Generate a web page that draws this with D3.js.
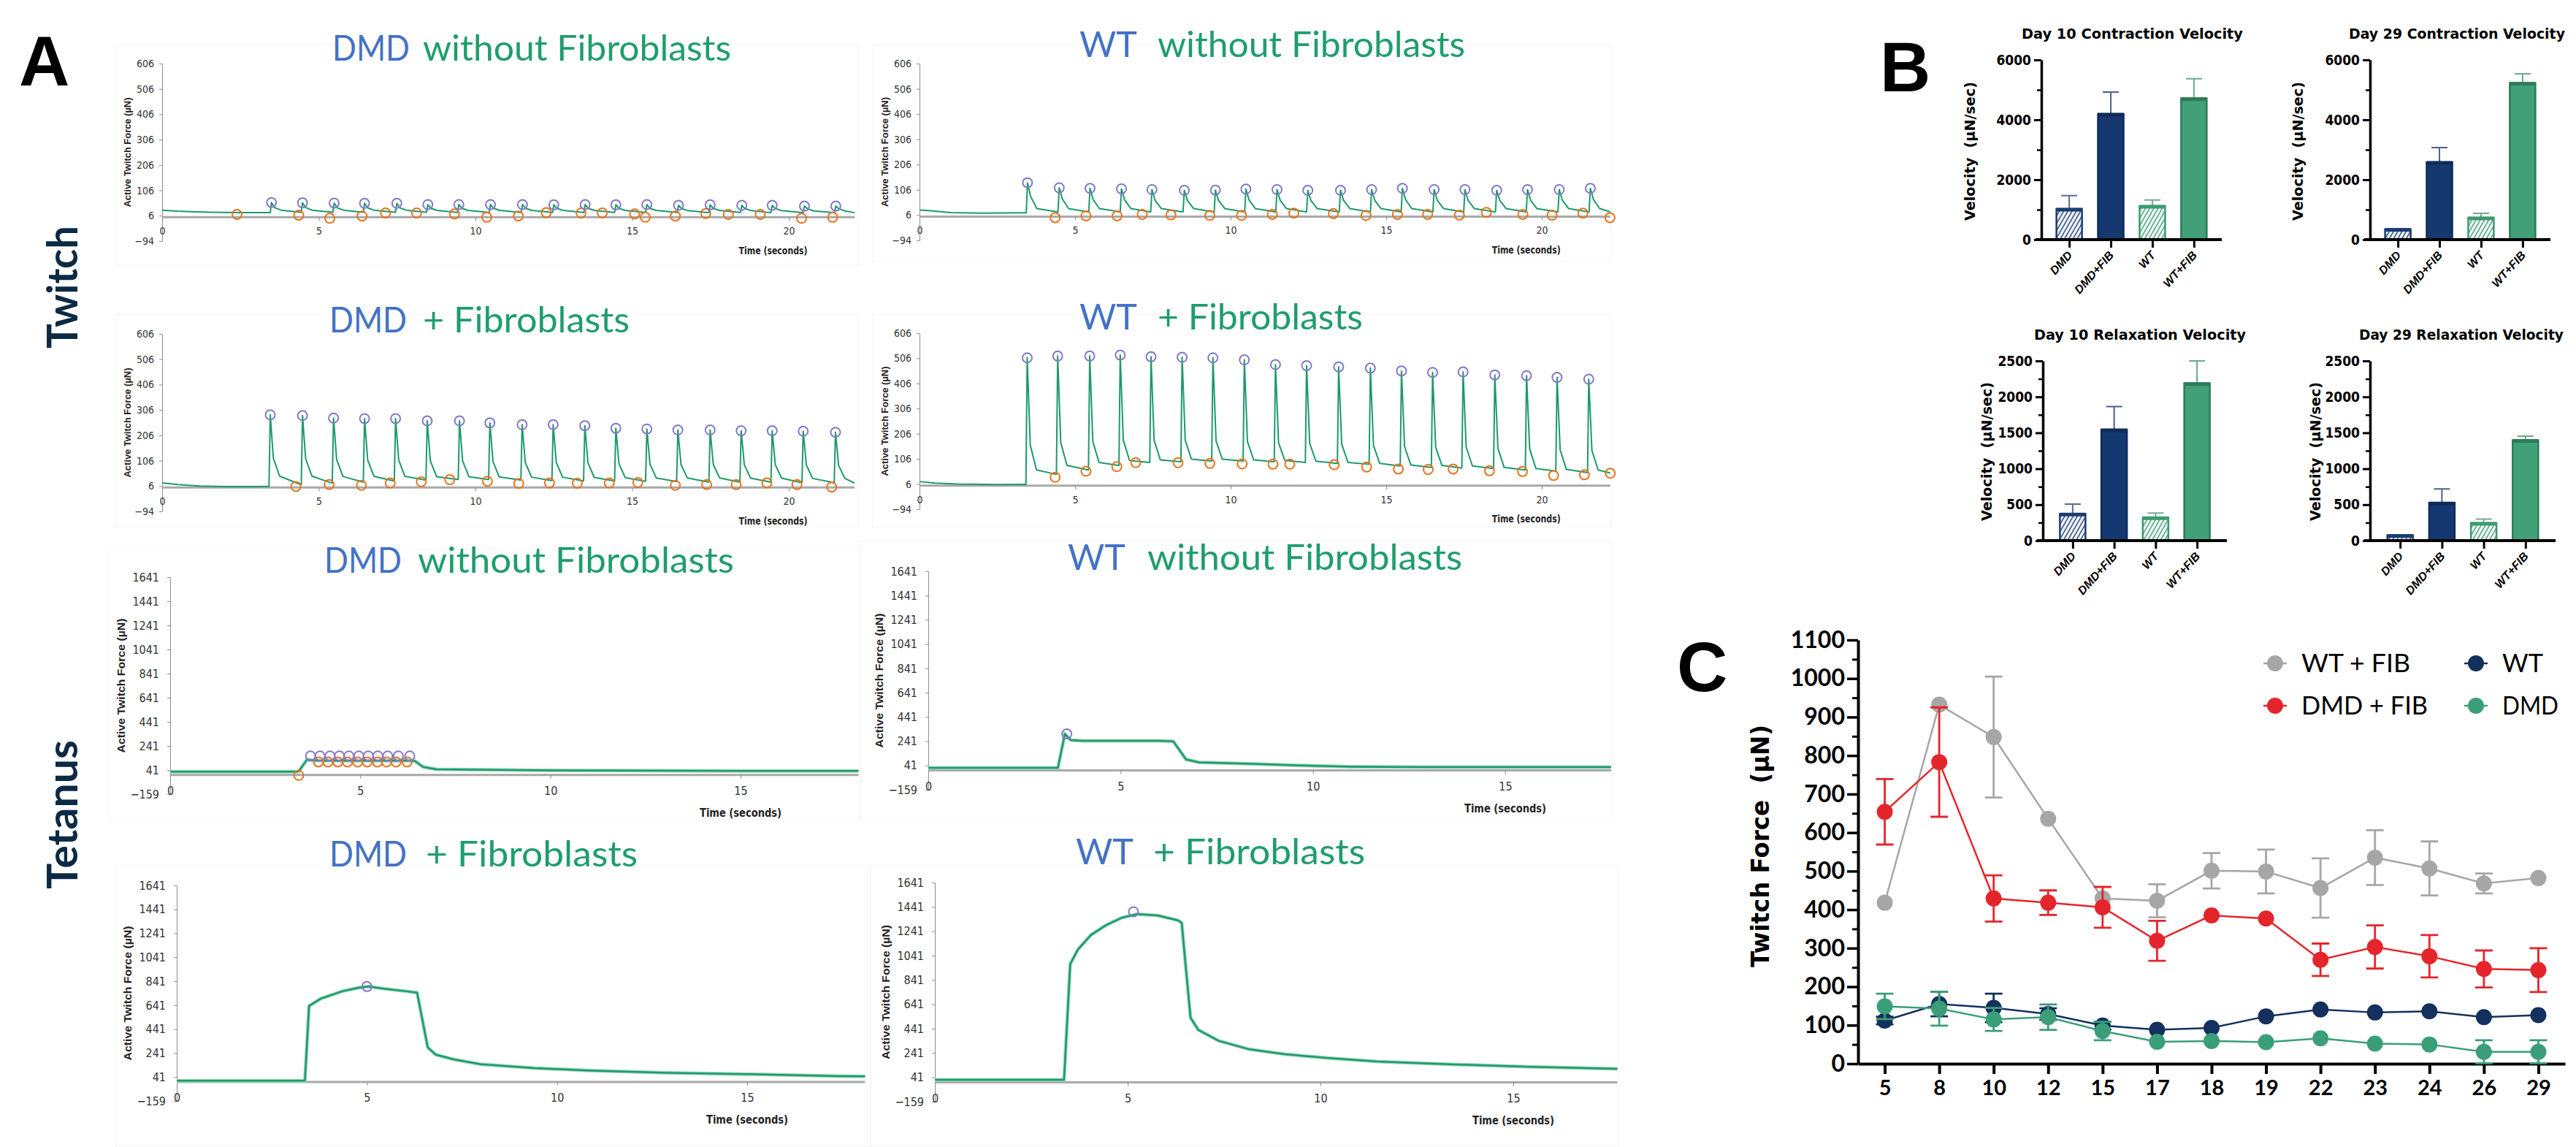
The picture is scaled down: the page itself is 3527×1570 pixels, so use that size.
<!DOCTYPE html>
<html>
<head>
<meta charset="utf-8">
<script src="https://cdn.jsdelivr.net/npm/d3@7"></script>
<style>
  body { margin: 0; background: #fff; }
  svg { display: block; }
</style>
</head>
<body>
<div id="chart-area"></div>
<script>
// ---------------- data: panel A, twitch traces ----------------
// DMD without fibroblasts
const dmdTwLead = [[0, 28], [0.5, 24], [1.5, 20], [2.5, 18], [3.42, 18]];
const dmdTwPeakT = [3.49, 4.48, 5.49, 6.46, 7.49, 8.48, 9.47, 10.48, 11.5, 12.5, 13.5, 14.48, 15.47, 16.48, 17.49, 18.5, 19.47, 20.5, 21.5];
const dmdTwPeakV = [58, 57, 56, 55, 55, 50, 50, 50, 50, 49, 50, 49, 50, 47, 49, 47, 47, 44, 44];
const dmdTwMid = [38, 38, 37, 37, 37, 35, 35, 35, 35, 35, 35, 35, 35, 34, 35, 34, 34, 33, 33];
const dmdTwTail = [28, 28, 28, 28, 28, 27, 27, 27, 27, 27, 27, 27, 27, 26, 27, 26, 26, 25, 25];
const dmdTwRest = [20, 20, 20, 20, 20, 19, 19, 19, 19, 19, 19, 19, 19, 18, 19, 18, 18, 18, 18];
const dmdTwTroughT = [2.39, 4.36, 5.35, 6.38, 7.13, 8.12, 9.33, 10.36, 11.37, 12.26, 13.37, 14.05, 15.08, 15.42, 16.38, 17.35, 18.07, 19.09, 20.41, 21.4];
const dmdTwTroughV = [11, 8, -4, 5, 17, 17, 13, 0, 5, 18, 17, 17, 13, 0, 5, 15, 11, 11, -4, 0];

// WT without fibroblasts
const wtTwLead = [[0, 26], [0.3, 24], [1, 16], [2, 14], [3.4, 15]];
const wtTwPeakT = [3.47, 4.49, 5.48, 6.49, 7.47, 8.51, 9.51, 10.49, 11.49, 12.48, 13.53, 14.53, 15.52, 16.54, 17.53, 18.55, 19.54, 20.56, 21.56];
const wtTwPeakV = [134, 114, 112, 110, 107, 104, 105, 109, 107, 104, 104, 107, 112, 107, 107, 104, 107, 107, 112];
const wtTwMid = [80, 70, 68, 67, 65, 64, 64, 66, 65, 64, 64, 65, 68, 65, 65, 64, 65, 65, 68];
const wtTwTail = [32, 32, 32, 32, 32, 32, 32, 32, 32, 32, 32, 32, 32, 32, 32, 32, 32, 32, 32];
const wtTwRest = [19, 19, 19, 19, 19, 19, 19, 19, 19, 19, 19, 19, 19, 19, 19, 19, 19, 19, 19];
const wtTwTroughT = [4.36, 5.35, 6.35, 7.16, 8.08, 9.33, 10.35, 11.34, 12.03, 13.3, 14.35, 15.36, 16.33, 17.35, 18.22, 19.39, 20.33, 21.32, 22.19];
const wtTwTroughV = [-4, 3, 3, 9, 7, 5, 5, 9, 14, 12, 5, 9, 9, 6, 17, 9, 6, 14, -4];

// DMD + fibroblasts
const dmdFibTwLead = [[0, 18], [0.5, 12], [1.2, 6], [2, 4], [3, 4], [3.38, 5]];
const dmdFibTwPeakT = [3.45, 4.48, 5.47, 6.46, 7.45, 8.46, 9.49, 10.46, 11.49, 12.48, 13.49, 14.48, 15.47, 16.46, 17.49, 18.48, 19.47, 20.46, 21.49];
const dmdFibTwPeakV = [287, 284, 274, 272, 272, 263, 263, 255, 248, 248, 244, 234, 231, 227, 227, 224, 224, 222, 218];
const dmdFibTwMid = [115, 114, 110, 109, 109, 105, 105, 102, 99, 99, 98, 94, 92, 91, 91, 90, 90, 89, 87];
const dmdFibTwTail = [45, 45, 44, 44, 44, 43, 43, 42, 41, 41, 40, 39, 38, 38, 38, 37, 37, 36, 36];
const dmdFibTwRest = [12, 18, 22, 26, 30, 32, 32, 30, 28, 26, 26, 25, 24, 22, 22, 22, 20, 20, 18];
const dmdFibTwTroughT = [4.27, 5.33, 6.36, 7.28, 8.27, 9.18, 10.38, 11.38, 12.36, 13.25, 14.27, 15.18, 16.38, 17.38, 18.32, 19.3, 20.26, 21.37];
const dmdFibTwTroughV = [4, 12, 9, 18, 23, 31, 25, 16, 18, 17, 18, 20, 9, 12, 12, 18, 12, 2];

// WT + fibroblasts
const wtFibTwLead = [[0, 16], [0.5, 10], [1.2, 6], [2.5, 4], [3.38, 5]];
const wtFibTwPeakT = [3.46, 4.44, 5.47, 6.45, 7.44, 8.44, 9.43, 10.44, 11.44, 12.44, 13.47, 14.49, 15.49, 16.49, 17.47, 18.49, 19.51, 20.49, 21.51];
const wtFibTwPeakV = [508, 515, 515, 519, 512, 510, 508, 500, 481, 477, 472, 467, 456, 450, 452, 440, 437, 430, 423];
const wtFibTwMid = [160, 170, 175, 180, 180, 180, 178, 175, 170, 168, 165, 160, 155, 152, 152, 148, 146, 142, 140];
const wtFibTwTail = [62, 80, 92, 100, 102, 105, 105, 102, 100, 97, 92, 88, 82, 80, 78, 72, 68, 64, 62];
const wtFibTwRest = [45, 62, 80, 92, 95, 98, 98, 95, 92, 88, 85, 78, 72, 70, 68, 62, 58, 52, 50];
const wtFibTwTroughT = [4.36, 5.35, 6.34, 6.95, 8.31, 9.33, 10.37, 11.36, 11.9, 13.33, 14.37, 15.39, 16.35, 17.15, 18.32, 19.38, 20.38, 21.37, 22.2];
const wtFibTwTroughV = [33, 57, 75, 91, 91, 88, 86, 85, 85, 83, 74, 66, 64, 66, 59, 56, 40, 43, 49];

// ---------------- data: panel A, tetanus traces ----------------
const dmdTetTrace = [[0, 27], [3.3, 27], [3.38, 30], [3.6, 128], [3.8, 120], [4.5, 118], [5.5, 118], [6.3, 118], [6.44, 115], [6.65, 67], [7.0, 47], [8, 44], [9, 41], [10, 38], [12, 36], [15, 34], [18.1, 33]];
const dmdTetPeakT = [3.69, 3.94, 4.2, 4.45, 4.7, 4.96, 5.21, 5.46, 5.72, 6.0, 6.3];
const dmdTetPeakV = [158, 158, 158, 158, 158, 158, 158, 158, 158, 158, 158];
const dmdTetTroughT = [3.38, 3.9, 4.15, 4.41, 4.66, 4.93, 5.18, 5.45, 5.69, 5.94, 6.23];
const dmdTetTroughV = [-3, 108, 108, 108, 108, 108, 108, 108, 108, 108, 108];

const wtTetTrace = [[0, 21], [3.37, 21], [3.55, 301], [3.7, 251], [4, 245], [5, 245], [6, 245], [6.37, 240], [6.7, 91], [7.04, 67], [8.4, 55], [9.7, 41], [11, 31], [13, 28], [15, 27], [17.75, 27]];
const wtTetPeakT = [3.6];
const wtTetPeakV = [301];

const dmdFibTetTrace = [[0, 10], [3.37, 10], [3.48, 635], [3.79, 696], [4.35, 757], [4.78, 787], [5.06, 797], [5.48, 777], [6.04, 757], [6.32, 746], [6.6, 289], [6.81, 228], [7.3, 187], [8.0, 147], [9.41, 116], [10.8, 96], [12.92, 76], [15.03, 65], [17.39, 49], [18.1, 47]];
const dmdFibTetPeakT = [5.0];
const dmdFibTetPeakV = [797];

const wtFibTetTrace = [[0, 21], [3.35, 21], [3.51, 971], [3.71, 1091], [4.05, 1211], [4.44, 1291], [4.84, 1351], [5.24, 1381], [5.77, 1371], [6.3, 1331], [6.4, 1311], [6.63, 531], [6.83, 431], [7.36, 341], [8.16, 271], [9.08, 231], [10.15, 201], [11.47, 171], [13.46, 147], [15.45, 127], [17.7, 111]];
const wtFibTetPeakT = [5.15];
const wtFibTetPeakV = [1401];

const twitchYTicks = [-94, 6, 106, 206, 306, 406, 506, 606];
const tetanusYTicks = [-159, 41, 241, 441, 641, 841, 1041, 1241, 1441, 1641];
const twitchXTicks = [0, 5, 10, 15, 20];
const tetanusXTicks = [0, 5, 10, 15];

// ---------------- data: panel B ----------------
const groups = ["DMD", "DMD+FIB", "WT", "WT+FIB"];
const d10ContrMean = [1024, 4195, 1122, 4715];
const d10ContrErr = [448, 732, 203, 659];
const d29ContrMean = [350, 2585, 732, 5228];
const d29ContrErr = [0, 488, 146, 309];
const d10RelaxMean = [373, 1544, 322, 2188];
const d10RelaxErr = [136, 322, 61, 312];
const d29RelaxMean = [75, 526, 244, 1397];
const d29RelaxErr = [0, 193, 55, 55];

// ---------------- data: panel C ----------------
const days = ["5", "8", "10", "12", "15", "17", "18", "19", "22", "23", "24", "26", "29"];
const wtFibMean = [418, 932, 848, 636, 429, 423, 501, 499, 456, 535, 507, 468, 482];
const wtFibSem = [0, 0, 157, 0, 0, 43, 46, 57, 77, 71, 70, 26, 0];
const dmdFibMean = [654, 783, 429, 418, 406, 319, 385, 377, 270, 303, 279, 246, 243];
const dmdFibSem = [85, 142, 60, 32, 53, 52, 0, 0, 42, 56, 55, 48, 57];
const wtMean = [112, 155, 145, 129, 99, 88, 93, 123, 141, 133, 136, 121, 126];
const wtSem = [10, 32, 37, 15, 10, 0, 0, 0, 0, 0, 0, 0, 0];
const dmdMean = [149, 143, 115, 121, 85, 57, 59, 56, 66, 52, 50, 31, 31];
const dmdSem = [33, 44, 30, 33, 24, 0, 0, 0, 0, 0, 0, 30, 30];

// ---------------- setup ----------------
const NARROW = "'Liberation Sans Narrow','DejaVu Sans Condensed',sans-serif";
const SANS = "'Liberation Sans',Arial,sans-serif";
const TITLEF = "Lato,'Open Sans',sans-serif";
const BLUE = "#4472c4", TGREEN = "#1f9d6d", TRACE = "#1c9a6b";
const PEAK = "#8577c9", TROUGH = "#e8731e";
const plain = d3.format("d");

const svg = d3.select("#chart-area").append("svg")
    .attr("width", 3527)
    .attr("height", 1570)
    .style("background", "#fff");

// build a twitch line from the per-beat readings
function twitchTrace(lead, peakT, peakV, mid, tail, rest, xMax) {
    const pts = lead.slice();
    peakT.forEach((t, i) => {
        const before = i === 0 ? lead[lead.length - 1][1] : rest[i - 1];
        pts.push([t - 0.04, before]);
        pts.push([t, peakV[i]]);
        pts.push([t + 0.1, mid[i]]);
        pts.push([t + 0.3, tail[i]]);
        const end = i < peakT.length - 1 ? peakT[i + 1] - 0.06 : xMax;
        pts.push([end, rest[i]]);
    });
    return pts;
}

const zip = (a, b) => a.map((d, i) => [d, b[i]]);

// layout of the eight Excel-style trace charts (pixel positions only)
const aPanels = [
    { kind: "twitch", lead: "DMD", rest: "without Fibroblasts", tx: [455, 579, 1001], ty: 83,
      xr: [222, 1080], xd: 20, xMax: 22.1, yr: [330, 87], frame: [158, 61, 1175, 362],
      trace: twitchTrace(dmdTwLead, dmdTwPeakT, dmdTwPeakV, dmdTwMid, dmdTwTail, dmdTwRest, 22.1),
      peaks: zip(dmdTwPeakT, dmdTwPeakV), troughs: zip(dmdTwTroughT, dmdTwTroughV) },
    { kind: "twitch", lead: "WT", rest: "without Fibroblasts", tx: [1478, 1585, 2006], ty: 78,
      xr: [1259, 2111], xd: 20, xMax: 22.2, yr: [329, 87], frame: [1195, 61, 2206, 358],
      trace: twitchTrace(wtTwLead, wtTwPeakT, wtTwPeakV, wtTwMid, wtTwTail, wtTwRest, 22.2),
      peaks: zip(wtTwPeakT, wtTwPeakV), troughs: zip(wtTwTroughT, wtTwTroughV) },
    { kind: "twitch", lead: "DMD", rest: "+ Fibroblasts", tx: [451, 579, 862], ty: 455,
      xr: [222, 1080], xd: 20, xMax: 22.1, yr: [700, 457], frame: [158, 430, 1175, 722],
      trace: twitchTrace(dmdFibTwLead, dmdFibTwPeakT, dmdFibTwPeakV, dmdFibTwMid, dmdFibTwTail, dmdFibTwRest, 22.1),
      peaks: zip(dmdFibTwPeakT, dmdFibTwPeakV), troughs: zip(dmdFibTwTroughT, dmdFibTwTroughV) },
    { kind: "twitch", lead: "WT", rest: "+ Fibroblasts", tx: [1478, 1585, 1866], ty: 451,
      xr: [1259, 2111], xd: 20, xMax: 22.2, yr: [697, 456], frame: [1195, 430, 2206, 722],
      trace: twitchTrace(wtFibTwLead, wtFibTwPeakT, wtFibTwPeakV, wtFibTwMid, wtFibTwTail, wtFibTwRest, 22.2),
      peaks: zip(wtFibTwPeakT, wtFibTwPeakV), troughs: zip(wtFibTwTroughT, wtFibTwTroughV) },
    { kind: "tetanus", lead: "DMD", rest: "without Fibroblasts", tx: [444, 572, 1005], ty: 784,
      xr: [233, 1014], xd: 15, xMax: 18.1, yr: [1087, 790], frame: [147, 752, 1178, 1122],
      trace: dmdTetTrace, peaks: zip(dmdTetPeakT, dmdTetPeakV), troughs: zip(dmdTetTroughT, dmdTetTroughV) },
    { kind: "tetanus", lead: "WT", rest: "without Fibroblasts", tx: [1462, 1571, 2002], ty: 780,
      xr: [1271, 2061], xd: 15, xMax: 17.75, yr: [1081, 782], frame: [1178, 740, 2206, 1122],
      trace: wtTetTrace, peaks: zip(wtTetPeakT, wtTetPeakV), troughs: [] },
    { kind: "tetanus", lead: "DMD", rest: "+ Fibroblasts", tx: [451, 583, 873], ty: 1186,
      xr: [242, 1023], xd: 15, xMax: 18.1, yr: [1507, 1212], frame: [158, 1185, 1192, 1569],
      trace: dmdFibTetTrace, peaks: zip(dmdFibTetPeakT, dmdFibTetPeakV), troughs: [] },
    { kind: "tetanus", lead: "WT", rest: "+ Fibroblasts", tx: [1473, 1579, 1869], ty: 1183,
      xr: [1280, 2072], xd: 15, xMax: 17.7, yr: [1508, 1208], frame: [1192, 1185, 2216, 1569],
      trace: wtFibTetTrace, peaks: zip(wtFibTetPeakT, wtFibTetPeakV), troughs: [] }
];

aPanels.forEach(p => {
    const tw = p.kind === "twitch";
    const x = d3.scaleLinear().domain([0, p.xd]).range(p.xr);
    const y = d3.scaleLinear().domain(tw ? [-94, 606] : [-159, 1641]).range(p.yr);
    const g = svg.append("g");

    g.append("rect")
        .attr("x", p.frame[0]).attr("y", p.frame[1])
        .attr("width", p.frame[2] - p.frame[0]).attr("height", p.frame[3] - p.frame[1])
        .attr("fill", "none").attr("stroke", "#f3f3f3");

    // y axis
    const ya = g.append("g")
        .attr("transform", `translate(${p.xr[0]},0)`)
        .call(d3.axisLeft(y).tickValues(tw ? twitchYTicks : tetanusYTicks)
            .tickSize(4).tickSizeOuter(0).tickPadding(tw ? 7 : 11).tickFormat(plain));
    ya.select(".domain").attr("stroke", "#8c8c8c");
    ya.selectAll(".tick line").attr("stroke", "#8c8c8c");
    ya.selectAll("text").attr("font-family", NARROW).attr("font-size", tw ? 14 : 16).attr("fill", "#333");

    // zero line + x ticks
    g.append("line")
        .attr("x1", x(0)).attr("x2", x(p.xMax))
        .attr("y1", y(0)).attr("y2", y(0))
        .attr("stroke", "#a9a9a9").attr("stroke-width", 3);
    const xa = g.append("g")
        .attr("transform", `translate(0,${y(0)})`)
        .call(d3.axisBottom(x).tickValues(tw ? twitchXTicks : tetanusXTicks).tickSize(5).tickPadding(tw ? 9 : 11).tickFormat(plain));
    xa.select(".domain").remove();
    xa.selectAll(".tick line").attr("stroke", "#8c8c8c");
    xa.selectAll("text").attr("font-family", NARROW).attr("font-size", tw ? 14 : 16).attr("fill", "#333");

    // axis titles
    const ymid = (p.yr[0] + p.yr[1]) / 2;
    g.append("text")
        .attr("transform", `translate(${p.xr[0] - (tw ? 43 : 62)},${ymid}) rotate(-90)`)
        .attr("text-anchor", "middle")
        .attr("font-family", SANS).attr("font-weight", "bold").attr("font-size", tw ? 12 : 14)
        .attr("textLength", tw ? 150 : 184).attr("lengthAdjust", "spacingAndGlyphs")
        .attr("fill", "#222")
        .text("Active Twitch Force (µN)");
    g.append("text")
        .attr("x", x(tw ? 19.5 : 15)).attr("y", p.yr[0] + (tw ? 18 : 31))
        .attr("text-anchor", "middle")
        .attr("font-family", NARROW).attr("font-weight", "bold").attr("font-size", tw ? 14 : 16)
        .attr("textLength", tw ? 94 : 112).attr("lengthAdjust", "spacingAndGlyphs")
        .attr("fill", "#222")
        .text("Time (seconds)");

    // trace
    const line = d3.line().x(d => x(d[0])).y(d => y(d[1]));
    if (!tw) {
        g.append("path").datum(p.trace).attr("d", line)
            .attr("fill", "none").attr("stroke", "#9fd8bf").attr("stroke-width", 5)
            .attr("stroke-linejoin", "round");
    }
    g.append("path").datum(p.trace).attr("d", line)
        .attr("fill", "none").attr("stroke", TRACE).attr("stroke-width", tw ? 2 : 2.5)
        .attr("stroke-linejoin", "round");

    g.selectAll(".tr").data(p.troughs).join("circle")
        .attr("cx", d => x(d[0])).attr("cy", d => y(d[1])).attr("r", 6.5)
        .attr("fill", "none").attr("stroke", TROUGH).attr("stroke-width", 2);
    g.selectAll(".pk").data(p.peaks).join("circle")
        .attr("cx", d => x(d[0])).attr("cy", d => y(d[1])).attr("r", 6.5)
        .attr("fill", "none").attr("stroke", PEAK).attr("stroke-width", 2);

    // two-colour title
    g.append("text").attr("x", p.tx[0]).attr("y", p.ty)
        .attr("font-family", TITLEF).attr("font-size", 48).attr("fill", BLUE)
        .attr("textLength", p.lead === "DMD" ? 106 : 79).attr("lengthAdjust", "spacingAndGlyphs")
        .text(p.lead);
    g.append("text").attr("x", p.tx[1]).attr("y", p.ty)
        .attr("font-family", TITLEF).attr("font-size", 48).attr("fill", TGREEN)
        .attr("textLength", p.tx[2] - p.tx[1]).attr("lengthAdjust", "spacingAndGlyphs")
        .text(p.rest);
});

// row labels and panel letters
[["Twitch", 393, 168], ["Tetanus", 1115, 204]].forEach(([t, cy, len]) => {
    svg.append("text")
        .attr("transform", `translate(106,${cy}) rotate(-90)`)
        .attr("text-anchor", "middle")
        .attr("font-family", "Lato,'Noto Sans',sans-serif").attr("font-weight", "bold").attr("font-size", 58)
        .attr("textLength", len).attr("lengthAdjust", "spacingAndGlyphs")
        .attr("fill", "#0c2a44")
        .text(t);
});
[["A", 26, 117], ["B", 2574, 125], ["C", 2296, 946]].forEach(([t, x, y]) => {
    svg.append("text").attr("x", x).attr("y", y)
        .attr("font-family", SANS).attr("font-weight", "bold").attr("font-size", 96)
        .attr("fill", "#000").text(t);
});

// ---------------- panel B: bar charts ----------------
const defs = svg.append("defs");
[["hatchNavy", "#1d3f78"], ["hatchGreen", "#3f9a72"]].forEach(([id, c]) => {
    const pat = defs.append("pattern").attr("id", id)
        .attr("patternUnits", "userSpaceOnUse").attr("width", 5).attr("height", 10)
        .attr("patternTransform", "rotate(30)");
    pat.append("rect").attr("width", 5).attr("height", 10).attr("fill", "#fff");
    pat.append("line").attr("x1", 1.5).attr("x2", 1.5).attr("y1", 0).attr("y2", 10)
        .attr("stroke", c).attr("stroke-width", 1.6);
});
const barFill = ["url(#hatchNavy)", "#14386f", "url(#hatchGreen)", "#41a078"];
const barStroke = ["#1b3c72", "#0f2c58", "#3b9a6f", "#2f7a59"];
const errColor = ["#5b6c8c", "#4c6185", "#7aa994", "#6aa88c"];

const bPanels = [
    { title: "Day 10 Contraction Velocity", tx: [2768, 3071], ty: 53, ax: [2795, 3042], yr: [328, 82], max: 6000,
      major: [0, 2000, 4000, 6000], minor: [1000, 3000, 5000], pad: 0.67, yt: [2704, 207], mean: d10ContrMean, err: d10ContrErr },
    { title: "Day 29 Contraction Velocity", tx: [3216, 3512], ty: 53, ax: [3245, 3492], yr: [328, 82], max: 6000,
      major: [0, 2000, 4000, 6000], minor: [1000, 3000, 5000], pad: 0.67, yt: [3153, 207], mean: d29ContrMean, err: d29ContrErr },
    { title: "Day 10 Relaxation Velocity", tx: [2785, 3075], ty: 465, ax: [2797, 3049], yr: [740, 494], max: 2500,
      major: [0, 500, 1000, 1500, 2000, 2500], minor: [250, 750, 1250, 1750, 2250], pad: 0.72, yt: [2727, 618], mean: d10RelaxMean, err: d10RelaxErr },
    { title: "Day 29 Relaxation Velocity", tx: [3230, 3510], ty: 465, ax: [3245, 3499], yr: [740, 494], max: 2500,
      major: [0, 500, 1000, 1500, 2000, 2500], minor: [250, 750, 1250, 1750, 2250], pad: 0.72, yt: [3177, 618], mean: d29RelaxMean, err: d29RelaxErr }
];

bPanels.forEach(p => {
    const x = d3.scalePoint().domain(groups).range(p.ax).padding(p.pad);
    const y = d3.scaleLinear().domain([0, p.max]).range(p.yr);
    const g = svg.append("g");
    const bw = 35;

    g.append("text")
        .attr("x", p.tx[0]).attr("y", p.ty)
        .attr("font-family", NARROW).attr("font-weight", "bold").attr("font-size", 20)
        .attr("textLength", p.tx[1] - p.tx[0]).attr("lengthAdjust", "spacingAndGlyphs")
        .text(p.title);

    // error bars (upper only), drawn under the bars
    g.selectAll(".eb").data(groups).join("path")
        .attr("d", (c, i) => {
            const cx = x(c), y0 = y(p.mean[i]), y1 = y(p.mean[i] + p.err[i]);
            return `M${cx},${y0}V${y1}M${cx - 11},${y1}H${cx + 11}`;
        })
        .attr("fill", "none").attr("stroke", (c, i) => errColor[i]).attr("stroke-width", 2);

    g.selectAll(".bar").data(groups).join("rect")
        .attr("x", c => x(c) - bw / 2)
        .attr("y", (c, i) => y(p.mean[i]))
        .attr("width", bw)
        .attr("height", (c, i) => y(0) - y(p.mean[i]))
        .attr("fill", (c, i) => barFill[i])
        .attr("stroke", (c, i) => barStroke[i]).attr("stroke-width", 2.5);
    // darker cap on top of each bar
    g.selectAll(".cap").data(groups).join("rect")
        .attr("x", c => x(c) - bw / 2)
        .attr("y", (c, i) => y(p.mean[i]) - 1.5)
        .attr("width", bw).attr("height", 5)
        .attr("fill", (c, i) => barStroke[i]);

    // axes
    const ya = g.append("g").attr("transform", `translate(${p.ax[0]},0)`)
        .call(d3.axisLeft(y).tickValues(p.major).tickSize(10).tickSizeOuter(0).tickPadding(4).tickFormat(plain));
    ya.select(".domain").attr("stroke", "#000").attr("stroke-width", 3.5);
    ya.selectAll(".tick line").attr("stroke", "#000").attr("stroke-width", 3);
    ya.selectAll("text").attr("font-family", NARROW).attr("font-weight", "bold").attr("font-size", 19).attr("fill", "#000");
    const ym = g.append("g").attr("transform", `translate(${p.ax[0]},0)`)
        .call(d3.axisLeft(y).tickValues(p.minor).tickSize(6).tickFormat(""));
    ym.select(".domain").remove();
    ym.selectAll(".tick line").attr("stroke", "#000").attr("stroke-width", 2.5);

    const xa = g.append("g").attr("transform", `translate(0,${y(0)})`)
        .call(d3.axisBottom(x).tickSize(11).tickSizeOuter(0).tickFormat(""));
    xa.select(".domain").attr("stroke", "#000").attr("stroke-width", 4)
        .attr("d", `M${p.ax[0] - 8},0H${p.ax[1]}`);
    xa.selectAll(".tick line").attr("stroke", "#000").attr("stroke-width", 3);

    g.selectAll(".xl").data(groups).join("text")
        .attr("transform", c => `translate(${x(c) + 5},${y(0) + 22}) rotate(-48)`)
        .attr("text-anchor", "end")
        .attr("font-family", SANS).attr("font-weight", "bold").attr("font-style", "italic").attr("font-size", 16)
        .text(c => c);

    g.append("text")
        .attr("transform", `translate(${p.yt[0]},${p.yt[1]}) rotate(-90)`)
        .attr("text-anchor", "middle")
        .attr("font-family", "'DejaVu Sans',Verdana,sans-serif").attr("font-weight", "bold").attr("font-size", 19)
        .attr("textLength", 190).attr("lengthAdjust", "spacingAndGlyphs")
        .attr("xml:space", "preserve")
        .text("Velocity  (µN/sec)");
});

// ---------------- panel C: twitch force over time ----------------
const cx = d3.scalePoint().domain(days).range([2544, 3512]).padding(0.49);
const cy = d3.scaleLinear().domain([0, 1100]).range([1456, 876]);
const cg = svg.append("g");

const cya = cg.append("g").attr("transform", "translate(2544,0)")
    .call(d3.axisLeft(cy).tickValues(d3.range(0, 1101, 100)).tickSize(15).tickSizeOuter(0).tickPadding(3).tickFormat(plain));
cya.select(".domain").attr("stroke", "#000").attr("stroke-width", 4);
cya.selectAll(".tick line").attr("stroke", "#000").attr("stroke-width", 3.5);
cya.selectAll("text").attr("font-family", "Lato,'Open Sans',sans-serif").attr("font-weight", "bold")
    .attr("font-size", 32).attr("fill", "#000");
const cym = cg.append("g").attr("transform", "translate(2544,0)")
    .call(d3.axisLeft(cy).tickValues(d3.range(50, 1100, 100)).tickSize(8).tickFormat(""));
cym.select(".domain").remove();
cym.selectAll(".tick line").attr("stroke", "#000").attr("stroke-width", 3);

const cxa = cg.append("g").attr("transform", `translate(0,${cy(0)})`)
    .call(d3.axisBottom(cx).tickSize(14).tickSizeOuter(0).tickPadding(8));
cxa.select(".domain").attr("stroke", "#000").attr("stroke-width", 4);
cxa.selectAll(".tick line").attr("stroke", "#000").attr("stroke-width", 4);
cxa.selectAll("text").attr("font-family", "Lato,'Open Sans',sans-serif").attr("font-weight", "bold")
    .attr("font-size", 29).attr("fill", "#000");

cg.append("text")
    .attr("transform", "translate(2422,1158) rotate(-90)")
    .attr("text-anchor", "middle")
    .attr("font-family", "'DejaVu Sans',Verdana,sans-serif").attr("font-weight", "bold").attr("font-size", 34)
    .attr("textLength", 332).attr("lengthAdjust", "spacingAndGlyphs")
    .attr("xml:space", "preserve")
    .text("Twitch Force  (µN)");

const cSeries = [
    { name: "WT + FIB", color: "#a6a6a6", mean: wtFibMean, sem: wtFibSem, leg: [3115, 908] },
    { name: "DMD + FIB", color: "#e4252b", mean: dmdFibMean, sem: dmdFibSem, leg: [3115, 966] },
    { name: "WT", color: "#13305e", mean: wtMean, sem: wtSem, leg: [3390, 908] },
    { name: "DMD", color: "#3a9e78", mean: dmdMean, sem: dmdSem, leg: [3390, 966] }
];

cSeries.forEach(s => {
    const pts = days.map((d, i) => ({ d, m: s.mean[i], e: s.sem[i] }));
    const g = cg.append("g");
    g.append("path").datum(pts)
        .attr("d", d3.line().x(p => cx(p.d)).y(p => cy(p.m)))
        .attr("fill", "none").attr("stroke", s.color).attr("stroke-width", 2.5);
    g.selectAll(".err").data(pts.filter(p => p.e > 0)).join("path")
        .attr("d", p => {
            const x0 = cx(p.d), lo = cy(p.m - p.e), hi = cy(p.m + p.e);
            return `M${x0},${lo}V${hi}M${x0 - 12},${hi}H${x0 + 12}M${x0 - 12},${lo}H${x0 + 12}`;
        })
        .attr("fill", "none").attr("stroke", s.color).attr("stroke-width", 2.8);
    g.selectAll(".dot").data(pts).join("circle")
        .attr("cx", p => cx(p.d)).attr("cy", p => cy(p.m)).attr("r", 11)
        .attr("fill", s.color);

    // legend entry
    const [lx, ly] = s.leg;
    g.append("line").attr("x1", lx - 16).attr("x2", lx + 16).attr("y1", ly).attr("y2", ly)
        .attr("stroke", s.color).attr("stroke-width", 2.5);
    g.append("circle").attr("cx", lx).attr("cy", ly).attr("r", 11).attr("fill", s.color);
    const lw = { "WT + FIB": 149, "DMD + FIB": 173, "WT": 56, "DMD": 77 }[s.name];
    g.append("text").attr("x", lx + 36).attr("y", ly + 12)
        .attr("font-family", "Lato,'Open Sans',sans-serif").attr("font-size", 35).attr("fill", "#000")
        .attr("textLength", lw).attr("lengthAdjust", "spacingAndGlyphs")
        .text(s.name);
});
</script>
</body>
</html>
